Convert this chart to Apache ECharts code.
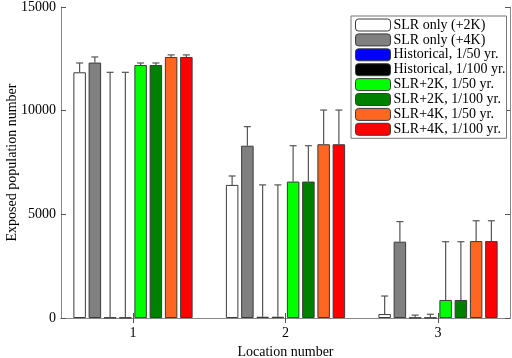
<!DOCTYPE html>
<html><head><meta charset="utf-8">
<script src="https://cdn.jsdelivr.net/npm/echarts@6/dist/echarts.min.js"></script>
<style>html,body{margin:0;padding:0;background:#fff}#c{width:512px;height:358px}</style>
</head><body><div id="c"></div>
<script>
const locations = [1, 2, 3];
const seriesNames = ['SLR only (+2K)', 'SLR only (+4K)', 'Historical, 1/50 yr.', 'Historical, 1/100 yr.',
  'SLR+2K, 1/50 yr.', 'SLR+2K, 1/100 yr.', 'SLR+4K, 1/50 yr.', 'SLR+4K, 1/100 yr.'];
const colors = ['#ffffff', '#808080', '#0000ff', '#000000', '#00ff00', '#008000', '#ff6622', '#ff0000'];
// bar heights per series (locations 1,2,3)
const slrOnly2K = [11850, 6420, 190];
const slrOnly4K = [12320, 8310, 3680];
const hist50 = [20, 60, 15];
const hist100 = [20, 60, 15];
const slr2K50 = [12200, 6580, 870];
const slr2K100 = [12200, 6580, 870];
const slr4K50 = [12590, 8380, 3710];
const slr4K100 = [12590, 8380, 3710];
// upper ends of the error bars
const slrOnly2KUp = [12300, 6850, 1060];
const slrOnly4KUp = [12590, 9230, 4650];
const hist50Up = [11850, 6420, 140];
const hist100Up = [11850, 6420, 180];
const slr2K50Up = [12300, 8310, 3680];
const slr2K100Up = [12300, 8310, 3680];
const slr4K50Up = [12690, 10030, 4690];
const slr4K100Up = [12690, 10030, 4690];
const yTicks = [0, 5000, 10000, 15000];

const values = [slrOnly2K, slrOnly4K, hist50, hist100, slr2K50, slr2K100, slr4K50, slr4K100];
const uppers = [slrOnly2KUp, slrOnly4KUp, hist50Up, hist100Up, slr2K50Up, slr2K100Up, slr4K50Up, slr4K100Up];

const BAR_W = 12.5, GAP = 0.22, PITCH = BAR_W * (1 + GAP);
const font = 'Liberation Serif';

const series = [];
values.forEach((v, i) => {
  series.push({
    name: seriesNames[i], type: 'bar', barWidth: BAR_W, barGap: (GAP * 100) + '%',
    data: locations.map((l, k) => [l, v[k]]),
    itemStyle: { color: colors[i], borderColor: '#3a3a3a', borderWidth: 1 },
    emphasis: { disabled: true }, z: 2
  });
});
const errData = [];
values.forEach((v, i) => locations.forEach((l, k) => errData.push([l, v[k], uppers[i][k], i])));
series.push({
  type: 'custom', data: errData, z: 5, silent: true,
  renderItem: function (params, api) {
    const i = api.value(3);
    const base = api.coord([api.value(0), api.value(1)]);
    const top = api.coord([api.value(0), api.value(2)]);
    const x = base[0] + (i - 3.5) * PITCH;
    const cw = 3.5;
    const st = { stroke: '#555', lineWidth: 1.2 };
    return { type: 'group', children: [
      { type: 'line', shape: { x1: x, y1: base[1], x2: x, y2: top[1] }, style: st },
      { type: 'line', shape: { x1: x - cw, y1: top[1], x2: x + cw, y2: top[1] }, style: st }
    ]};
  }
});

const chart = echarts.init(document.getElementById('c'));
chart.setOption({
  animation: false,
  backgroundColor: '#fff',
  grid: { left: 61, right: 2, top: 7, bottom: 40, containLabel: false, outerBoundsMode: 'none' },
  legend: {
    data: seriesNames, orient: 'vertical', left: 351, top: 16,
    itemWidth: 35, itemHeight: 12, itemGap: 0.9,
    padding: [2, 1, 2, 4], backgroundColor: '#fff', borderColor: '#777', borderWidth: 1,
    textStyle: { fontFamily: font, fontSize: 14, color: '#000', padding: [0, 0, 0, -2] },
    selectedMode: false, itemStyle: { borderColor: '#3a3a3a', borderWidth: 1 }
  },
  xAxis: [{
    type: 'value', min: 0.528, max: 3.472, position: 'bottom',
    name: 'Location number', nameLocation: 'middle', nameGap: 27, nameMoveOverlap: false,
    nameTextStyle: { fontFamily: font, fontSize: 14, color: '#000' },
    axisLine: { show: true, lineStyle: { color: '#888' } },
    axisTick: { inside: true, length: 5, customValues: locations, lineStyle: { color: '#555' } },
    axisLabel: { customValues: locations, fontFamily: font, fontSize: 14, color: '#000', margin: 8 },
    splitLine: { show: false }
  }, {
    type: 'value', min: 0.528, max: 3.472, position: 'top',
    axisLine: { show: true, lineStyle: { color: '#888' } },
    axisTick: { inside: true, length: 5, customValues: locations, lineStyle: { color: '#555' } },
    axisLabel: { show: false }, splitLine: { show: false }
  }],
  yAxis: [{
    type: 'value', min: 0, max: 15000, interval: 5000, position: 'left',
    name: 'Exposed population number', nameLocation: 'middle', nameGap: 42, nameMoveOverlap: false,
    nameTextStyle: { fontFamily: font, fontSize: 14, color: '#000' },
    axisLine: { show: true, lineStyle: { color: '#888' } },
    axisTick: { show: true, inside: true, length: 5, lineStyle: { color: '#555' } },
    axisLabel: { fontFamily: font, fontSize: 14, color: '#000', margin: 5, formatter: v => String(v) },
    splitLine: { show: false }
  }, {
    type: 'value', min: 0, max: 15000, interval: 5000, position: 'right',
    axisLine: { show: true, lineStyle: { color: '#888' } },
    axisTick: { show: true, inside: true, length: 5, lineStyle: { color: '#555' } },
    axisLabel: { show: false }, splitLine: { show: false }
  }],
  series: series
});
</script></body></html>
